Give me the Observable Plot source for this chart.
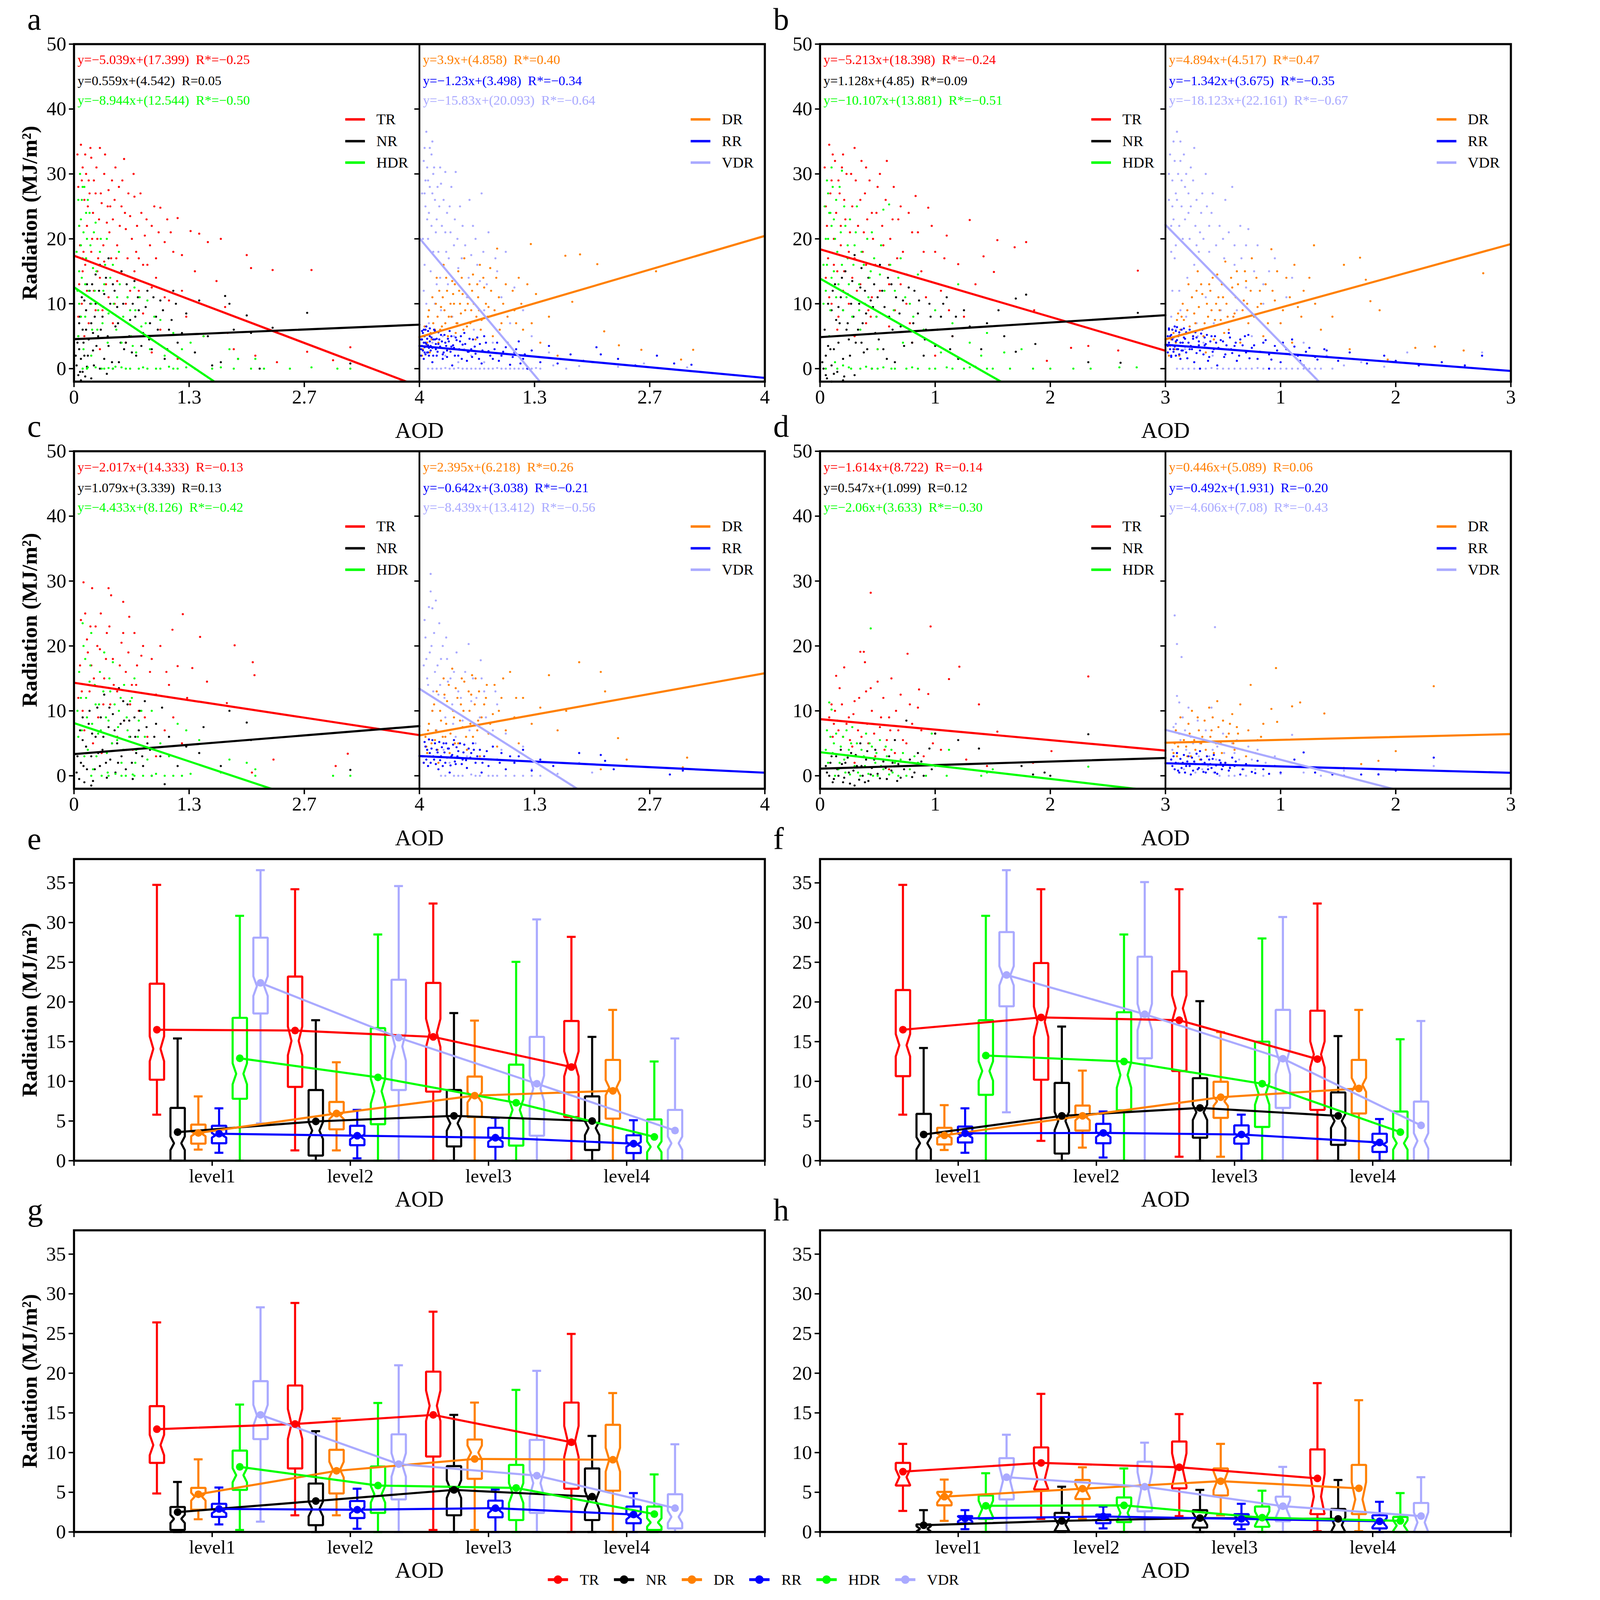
<!DOCTYPE html>
<html><head><meta charset="utf-8">
<script src="https://cdn.jsdelivr.net/npm/d3@7"></script>
<script src="https://cdn.jsdelivr.net/npm/@observablehq/plot@0.6"></script>
<style>
html,body{margin:0;padding:0;background:#fff;overflow:hidden;}
#root{position:absolute;left:0;top:0;width:4341px;height:4551px;background:#fff;font-family:"Liberation Serif",serif;overflow:hidden;transform-origin:0 0;}
</style></head><body><div id="root"></div>
<script>
// ---------- categories & styles ----------
const series = ["TR","NR","DR","RR","HDR","VDR"];
const colors = {TR:"#ff0000", NR:"#000000", DR:"#ff8000", RR:"#0000ff", HDR:"#00ff00", VDR:"#aaaaff"};
const levels = ["level1","level2","level3","level4"];
const yTicksScatter = [0,10,20,30,40,50];
const yTicksBox = [0,5,10,15,20,25,30,35];
const tickValsAC = [0,1.333,2.667,4], tickLabelsAC = ["0","1.3","2.7","4"];
const tickValsBD = [0,1,2,3], tickLabelsBD = ["0","1","2","3"];
const yTitleText = "Radiation (MJ/m\u00b2)";

// ---------- regression equations (order: TR, NR, HDR | DR, RR, VDR) ----------
const eqSeries = ["TR","NR","HDR","DR","RR","VDR"];
const slopeA = [-5.039, 0.559, -8.944, 3.9, -1.23, -15.83];
const interceptA = [17.399, 4.542, 12.544, 4.858, 3.498, 20.093];
const rA = [-0.25, 0.05, -0.50, 0.40, -0.34, -0.64];
const sigA = [1,0,1,1,1,1];
const slopeB = [-5.213, 1.128, -10.107, 4.894, -1.342, -18.123];
const interceptB = [18.398, 4.85, 13.881, 4.517, 3.675, 22.161];
const rB = [-0.24, 0.09, -0.51, 0.47, -0.35, -0.67];
const sigB = [1,1,1,1,1,1];
const slopeC = [-2.017, 1.079, -4.433, 2.395, -0.642, -8.439];
const interceptC = [14.333, 3.339, 8.126, 6.218, 3.038, 13.412];
const rC = [-0.13, 0.13, -0.42, 0.26, -0.21, -0.56];
const sigC = [0,0,1,1,1,1];
const slopeD = [-1.614, 0.547, -2.06, 0.446, -0.492, -4.606];
const interceptD = [8.722, 1.099, 3.633, 5.089, 1.931, 7.08];
const rD = [-0.14, 0.12, -0.30, 0.06, -0.20, -0.43];
const sigD = [0,0,1,0,0,1];

// ---------- scatter samples (x AOD, y radiation), read approximately ----------
const aTR = [0.05,28,0.08,34.5,0.1,31,0.12,26,0.13,33,0.15,22,0.17,29,0.2,32.5,0.22,24,0.25,27,0.27,20,0.3,34,0.32,25.5,0.35,30,0.38,22.5,0.4,27.5,0.45,23,0.48,31,0.5,19,0.55,25,0.58,32.3,0.6,21.5,0.65,23.5,0.7,26.5,0.72,18,0.78,24,0.82,20.5,0.9,22,0.95,17,1.0,24.8,1.05,19.5,1.12,21,1.2,23.2,1.25,17.5,1.35,21.2,1.45,20.8,1.55,19.5,1.7,20,2.0,17.5,2.05,15.5,2.3,15.2,2.75,15.2,0.1,15,0.15,12,0.2,18,0.25,9,0.3,14,0.35,16.5,0.4,11,0.45,7,0.5,13.5,0.6,10,0.7,15,0.8,8.5,0.9,12.5,1.0,6,1.1,10.5,1.25,12,1.3,8,1.4,15,1.5,5,1.65,13.5,1.75,9.5,1.78,5.5,1.85,3,2.1,2,2.35,1,2.7,2.6,3.0,1.3,3.2,3.3,0.05,8,0.12,5,0.3,3,0.6,4,0.9,2.5,1.2,1.5,0.07,19,0.18,27,0.28,17,0.42,25,0.52,28,0.62,17,0.75,12,0.85,16,
  0.04,33,0.06,22,0.09,29,0.11,18,0.14,30,0.16,25,0.19,34,0.21,20,0.23,29,0.26,31,0.29,23,0.31,27,0.34,19,0.36,33,0.39,25,0.41,21,0.44,29,0.47,26,0.49,17,0.53,22,0.56,29,0.59,24,0.63,27,0.67,20,0.69,30,0.73,22,0.77,27,0.8,16,0.84,23,0.88,19,0.93,25,0.98,21,1.08,23,1.15,18,0.06,13,0.09,10,0.13,16,0.17,7,0.23,12,0.27,15,0.33,9,0.37,13,0.43,17,0.47,10,0.55,15,0.65,12,0.75,17,0.95,14,1.05,11];
const aNR = [0.03,0.5,0.05,-1,0.06,3,0.08,1.5,0.1,-0.5,0.1,6,0.12,2,0.14,9,0.15,0.3,0.17,4.5,0.18,12,0.2,-1.5,0.2,7,0.22,2.8,0.25,14.5,0.25,10,0.28,5,0.3,0,0.3,16,0.33,8,0.35,11.5,0.38,-0.8,0.4,17,0.4,3.5,0.45,13,0.48,6.5,0.5,9.5,0.52,1,0.55,15,0.6,4,0.62,11,0.65,7.5,0.7,13.5,0.72,2,0.75,9,0.8,5.5,0.85,12,0.9,3,0.95,8,1.0,10.5,1.05,1.5,1.1,6,1.15,12,1.2,4,1.3,8.5,1.4,2.5,1.45,10.5,1.55,5,1.6,0.5,1.7,1,1.75,11.2,1.8,10,1.85,6,1.9,1.5,2.0,8.2,2.05,5.5,2.15,0,2.3,6.3,2.7,8.6,3.2,0.8,0.05,5,0.08,-1.8,0.12,10.5,0.07,8,0.15,13,0.22,5.5,0.35,1.5,0.45,0,0.58,3,0.68,10,0.88,7,
  0.02,2,0.04,4,0.06,7,0.07,-0.5,0.09,11,0.11,4,0.13,-1.2,0.14,6,0.16,2,0.19,10,0.21,13,0.23,0.5,0.24,8,0.26,3.5,0.29,12,0.31,6,0.34,9.5,0.37,14,0.39,5,0.42,10,0.44,1,0.47,12,0.51,7,0.54,4,0.57,10,0.61,13,0.64,5,0.67,2.5,0.71,8,0.74,11,0.78,3.5,0.83,9.5,0.87,4.5,0.92,11,0.97,6,1.03,9,1.08,3,1.13,7.5,1.18,10,1.25,5.5];
const aHDR = [0.04,12,0.06,22,0.07,30,0.08,8,0.09,26,0.1,17,0.11,3,0.12,28,0.13,13,0.15,20,0.16,0.2,0.18,24,0.2,10,0.22,15.5,0.25,22.5,0.27,6,0.3,18,0.32,0,0.35,13,0.38,20,0.4,8.5,0.45,16,0.48,0.3,0.5,11,0.55,4,0.58,14.5,0.6,0,0.65,9,0.7,12.5,0.72,2.5,0.78,6.5,0.8,0.2,0.85,10.5,0.9,4.5,0.95,0,1.0,7.5,1.05,2,1.1,0.3,1.15,5.5,1.2,0,1.25,3,1.3,0.2,1.35,4,1.4,0,1.5,5,1.6,0,1.7,0.2,1.8,3,1.85,0,1.9,1.5,2.05,0,2.1,1.5,2.2,0,2.5,0,2.75,0.2,3.05,0,3.2,0,0.05,5,0.1,0,0.2,2,0.4,0.1,0.06,15,0.08,19,0.14,24,0.24,12,0.33,7,0.52,18,0.68,3.5,
  0.03,18,0.05,26,0.06,10,0.08,23,0.09,14,0.1,28,0.11,21,0.13,8,0.14,17,0.16,26,0.17,12,0.19,19,0.21,6,0.23,21,0.26,15,0.28,9,0.31,20,0.34,12,0.36,16,0.39,4,0.42,14,0.46,10,0.49,6,0.53,13,0.57,8,0.62,11,0.66,5,0.71,9,0.76,11,0.83,7,0.88,3,0.93,8,0.15,0,0.25,0.2,0.35,0,0.45,0,0.55,0.2,0.65,0,0.75,0,0.85,0,1.0,0,1.15,0];
const aVDR = [0.05,32,0.07,25,0.08,36.5,0.1,20,0.1,29,0.12,34,0.13,15,0.15,27,0.17,31,0.18,10,0.2,23,0.22,18,0.25,28.5,0.27,5,0.3,21,0.3,30.3,0.33,13,0.35,25,0.38,8,0.4,19,0.42,30.3,0.45,15.5,0.5,22,0.52,3,0.55,11,0.58,26,0.6,17.5,0.63,6,0.65,20,0.7,13.5,0.72,27,0.75,9,0.8,21,0.85,4,0.9,15,0.95,11,1.0,18,1.05,7,1.1,12.5,1.2,9,1.3,5,0.1,0,0.2,0,0.3,0.1,0.4,0,0.5,0,0.6,0,0.7,0,0.8,0,0.9,0.1,1.0,0,1.1,0,1.2,0,1.3,0,1.4,0,1.55,0.5,1.7,0,1.85,0.4,2.0,1,2.3,0.3,2.6,0.8,3.1,0.2,1.5,2.5,0.05,12,0.06,27,0.09,23,0.14,33,0.16,18,0.24,14,0.34,17,
  0.03,27,0.04,20,0.06,34,0.07,29,0.09,31,0.11,24,0.12,28,0.14,22,0.15,35,0.16,30,0.18,26,0.19,21,0.21,28,0.23,25,0.24,31,0.26,22,0.28,26,0.31,18,0.32,24,0.36,21,0.37,28,0.41,23,0.44,20,0.47,25,0.49,17,0.53,19,0.57,14,0.62,22,0.67,16,0.74,18,0.78,13,0.88,17,0.06,16,0.08,10,0.11,7,0.15,4,0.2,13,0.25,9,0.3,2,0.4,5,0.45,1,0.6,2,0.75,1,0.95,2,0.15,0,0.25,0,0.35,0,0.45,0.1,0.55,0,0.65,0,0.75,0,0.85,0,0.95,0,1.05,0,1.15,0,1.25,0,1.35,0.1];
const aDR = [0.03,2,0.05,5,0.08,3.5,0.1,8,0.12,2.5,0.15,11,0.18,6,0.2,14,0.22,4,0.25,9.5,0.28,16,0.3,7,0.32,12,0.35,3,0.38,13.5,0.4,10,0.42,5.5,0.45,15,0.48,8.5,0.5,11.5,0.52,17,0.55,6.5,0.58,13,0.6,9,0.62,14.5,0.65,4.5,0.68,11,0.7,16,0.72,7.5,0.75,12.5,0.8,9.5,0.82,15.5,0.85,5,0.9,18.5,0.92,11,0.95,7,1.0,13,1.05,3.5,1.1,9,1.15,14,1.2,6,1.29,19.2,1.35,11.5,1.4,4,1.5,8,1.69,17.4,1.77,10.3,1.86,17.6,2.06,16.1,2.14,5.75,2.31,3.6,2.57,2.9,2.74,15,3.03,1.4,3.17,2.9,1.6,2,0.06,6.5,0.14,4.5,0.24,6,0.34,8,0.44,7,0.56,10,0.66,8,
  0.04,3,0.07,6,0.09,4,0.11,9,0.13,5.5,0.16,7,0.19,10,0.21,8,0.23,12,0.26,6.5,0.27,11,0.29,9,0.31,14,0.33,5,0.36,10,0.37,8,0.39,11.5,0.41,13,0.43,7,0.46,12,0.47,10,0.49,14,0.51,6,0.53,9,0.57,11,0.59,7,0.61,12,0.63,10,0.67,13,0.69,9,0.71,6,0.74,14,0.77,10,0.79,8,0.83,12,0.87,9,0.89,14,0.93,6,0.97,10,1.02,8,1.08,12,1.12,7,1.18,10,1.25,13,1.3,7];
const aRR = [0.02,3,0.04,5.5,0.05,1.5,0.07,4,0.08,6.5,0.1,2.5,0.12,5,0.13,3.5,0.15,1,0.17,6,0.18,4.5,0.2,2,0.22,3.8,0.25,5.2,0.27,1.5,0.3,4,0.32,2.8,0.35,5.8,0.38,0.5,0.4,3.2,0.42,4.8,0.45,2,0.5,3.7,0.52,5.5,0.55,1.2,0.6,3,0.62,4.5,0.65,2.3,0.7,3.8,0.72,0.8,0.75,5,0.8,2.7,0.85,1.5,0.9,4,0.95,2,1.0,3.3,1.05,0.6,1.1,2.5,1.15,4.2,1.2,1.5,1.3,2.8,1.4,1,1.5,3.5,1.6,0.8,1.75,2.2,1.9,1.2,2.05,3.3,2.1,2.2,2.3,1.5,2.5,0.5,2.75,2,2.95,0.8,3.15,0.6,1.25,0,0.03,4.5,0.06,2.5,0.09,5.2,0.11,3.2,0.14,4.8,0.19,3,0.23,4.5,0.28,2.5,0.33,4.6,0.37,3.4,0.47,4.2,0.57,2.6,
  0.02,4.5,0.02,2,0.03,3.5,0.03,5.8,0.04,2.8,0.05,4,0.05,6,0.06,3.3,0.06,5,0.07,2.2,0.07,6,0.08,3.8,0.09,2.5,0.09,4.6,0.1,5.8,0.1,3.6,0.11,2,0.12,4.2,0.12,6.2,0.13,2.8,0.14,5.4,0.15,3.2,0.16,4.5,0.16,2,0.18,5.8,0.19,3.8,0.2,4.6,0.21,2.6,0.22,5.6,0.24,3.4,0.26,4.2,0.27,2.2,0.29,5.2,0.31,3.5,0.32,1.8,0.34,4.2,0.36,2.6,0.37,5,0.39,3.6,0.41,2,0.43,4.4,0.46,3,0.48,5,0.49,1.5,0.53,3.8,0.56,2.6,0.58,4.6,0.61,1.8,0.64,3.4,0.67,4.8,0.69,1.5,0.73,2.8,0.77,4,0.82,2,0.87,3,0.92,1.2,0.97,2.6,1.02,4,1.08,1.8,1.12,3,1.17,0.8,1.22,2.2];

const bTR = [0.05,25,0.08,34.5,0.1,29,0.12,20,0.13,32,0.15,15,0.17,27,0.2,33,0.22,23,0.25,18,0.27,30,0.3,34,0.32,12,0.35,26,0.38,21,0.4,31,0.42,9,0.45,24,0.48,16,0.5,28,0.55,19,0.58,32,0.6,13,0.63,23,0.67,17,0.7,25,0.75,10,0.8,21,0.83,26.6,0.88,15,0.94,24.8,1.0,18,1.05,12,1.1,20.5,1.2,16.1,1.25,8,1.3,22.9,1.35,13,1.42,17.3,1.51,14.9,1.54,19.8,1.69,18.7,1.79,19.5,1.86,9,1.97,1.2,2.18,3.2,2.33,3.5,2.59,2.8,2.76,15.1,0.1,10,0.15,6,0.2,12,0.3,5,0.4,7,0.5,3,0.6,6.5,0.8,4,1.0,2,1.15,5,0.07,17,0.18,22,0.28,14,0.45,11,0.65,9,
  0.04,31,0.06,22,0.09,27,0.11,33,0.14,24,0.16,29,0.18,19,0.19,31,0.21,26,0.23,30,0.26,21,0.28,25,0.31,29,0.33,22,0.36,32,0.37,18,0.39,27,0.41,23,0.43,29,0.46,20,0.49,24,0.52,30,0.54,22,0.57,26,0.61,20,0.64,28,0.68,23,0.72,18,0.77,24,0.85,21,0.9,18,0.97,22,1.08,17,0.05,14,0.08,11,0.12,16,0.16,8,0.21,15,0.25,10,0.3,17,0.35,13,0.4,16,0.44,8,0.52,12,0.6,16,0.7,13,0.78,7,0.92,11,1.12,9];
const bNR = [0.03,0,0.05,2,0.06,-1.5,0.08,5,0.1,0.5,0.1,9,0.12,3,0.13,13,0.15,-0.5,0.17,7,0.18,11,0.2,1.5,0.22,15,0.25,4.5,0.27,10,0.3,-1,0.3,17.5,0.33,6,0.35,12.5,0.38,2.5,0.4,8.5,0.42,14,0.45,0,0.48,5.5,0.5,11,0.52,16,0.55,3,0.6,8,0.62,13,0.65,1,0.7,6.5,0.72,10.5,0.75,14.5,0.8,4,0.82,12,0.85,8.5,0.9,2,0.92,6,0.95,10,1.0,3.5,1.05,8,1.1,11,1.15,5,1.2,1.5,1.25,9,1.3,6.5,1.4,3,1.45,7,1.55,9,1.6,5,1.7,10.8,1.7,2.6,1.79,11.4,1.87,3.8,2.33,1,2.61,0.9,2.76,8.6,0.1,-2,0.2,-1.8,0.07,3.5,0.16,9.5,0.24,7,0.36,4,0.46,9.5,0.58,1.5,
  0.02,1,0.04,6,0.05,-1,0.07,10,0.09,3,0.11,12,0.12,-0.8,0.14,7.5,0.16,4,0.19,14,0.2,9,0.21,-1.2,0.23,6,0.24,11.5,0.26,2,0.28,13.5,0.29,8,0.31,4,0.34,10,0.36,15.5,0.37,7,0.39,12,0.41,3,0.44,10.5,0.47,13,0.49,8,0.51,4.5,0.54,12,0.56,9.5,0.59,14,0.63,6,0.66,11,0.69,8.5,0.73,3.5,0.77,12.5,0.81,7,0.86,10.5,0.91,4.5,0.96,8,1.02,6,1.07,10,1.13,3,1.18,8];
const bHDR = [0.03,10,0.05,20,0.07,27,0.08,5,0.1,31,0.1,14,0.12,23,0.13,1,0.15,18,0.17,28,0.19,30.5,0.2,9,0.22,22,0.25,13,0.27,0,0.3,19,0.32,25,0.35,6,0.38,16,0.4,0.3,0.42,11,0.45,21,0.5,3,0.52,14.5,0.55,24.5,0.58,8,0.6,25.3,0.62,0,0.65,12,0.7,17,0.72,4,0.78,10,0.8,0.2,0.85,14.5,0.9,6,0.95,0,1.0,9,1.05,2.5,1.1,0.2,1.15,7,1.2,13,1.25,0,1.3,4,1.35,0.3,1.4,2,1.45,5.5,1.5,0,1.6,2.5,1.65,0,1.75,3,1.85,0,2.0,0,2.2,0,2.35,0,2.6,0.2,2.75,0.2,0.05,0,0.2,0.5,0.5,0,0.06,16,0.09,24,0.14,11,0.24,17,0.34,9,0.44,15,
  0.03,16,0.04,25,0.05,12,0.06,29,0.07,20,0.08,24,0.09,9,0.1,22,0.11,28,0.12,15,0.13,20,0.14,26,0.16,13,0.18,21,0.19,16,0.21,25,0.23,11,0.24,19,0.26,23,0.28,8,0.29,16,0.31,21,0.34,13,0.36,18,0.39,10,0.41,20,0.43,14,0.47,17,0.49,8,0.53,19,0.56,12,0.61,16,0.64,9,0.68,14,0.74,11,0.81,8,0.15,0,0.25,0.2,0.35,0,0.45,0,0.55,0.2,0.65,0,0.75,0,0.85,0,1.0,0,1.15,0,1.3,0.2,1.45,0];
const bVDR = [0.03,30,0.05,22,0.07,35,0.08,17,0.1,36.5,0.1,26,0.12,12,0.13,32,0.15,20,0.17,28,0.18,8,0.2,24,0.22,31,0.25,16,0.25,34,0.28,5,0.3,21,0.32,27,0.35,11,0.35,30,0.38,18,0.4,24,0.42,7,0.45,14,0.5,20,0.52,26,0.55,3,0.58,28,0.6,16,0.62,9,0.65,22,0.7,12.5,0.72,21.5,0.75,5,0.8,19,0.85,10,0.9,15,0.95,17,1.0,7,1.05,11,1.1,14,1.2,4,1.3,10,1.4,2,0.1,0,0.2,0,0.3,0,0.4,0.1,0.5,0,0.6,0,0.7,0,0.8,0.1,0.9,0,1.0,0,1.1,0,1.2,0,1.3,0,1.45,0,1.55,0.5,1.7,1,1.9,0.3,2.1,2.5,2.4,0.5,2.75,2.5,0.05,8,0.06,25,0.09,19,0.14,29,0.19,14,0.27,19,
  0.03,26,0.04,33,0.05,18,0.06,29,0.07,23,0.08,32,0.09,27,0.11,30,0.12,22,0.13,35,0.14,25,0.16,33,0.17,23,0.18,30,0.2,27,0.21,20,0.22,25,0.24,29,0.26,22,0.27,26,0.29,18,0.31,24,0.33,20,0.36,25,0.38,22,0.41,27,0.44,19,0.47,22,0.51,17,0.55,21,0.6,19,0.66,17,0.7,19,0.77,15,0.85,13,0.06,12,0.09,6,0.13,9,0.17,3,0.23,11,0.27,7,0.33,4,0.41,2,0.48,9,0.15,0,0.25,0,0.35,0,0.45,0,0.55,0,0.65,0,0.75,0,0.85,0,0.95,0,1.05,0,1.15,0,1.25,0,1.35,0];
const bDR = [0.03,2,0.05,4.5,0.08,3,0.1,7.5,0.12,2,0.15,10,0.18,5.5,0.2,13,0.22,3.5,0.25,8.5,0.28,15,0.3,6,0.32,11.5,0.35,2.5,0.38,13,0.4,9,0.42,4.5,0.45,14.5,0.48,7.5,0.5,11,0.52,16.5,0.55,6,0.58,12.5,0.6,8.5,0.62,15,0.65,4,0.68,10.5,0.7,13.5,0.72,7,0.75,17,0.8,9.5,0.82,12,0.85,5,0.92,18.4,0.95,10.5,1.0,7,1.05,14,1.1,4,1.15,9.5,1.2,12,1.29,19,1.35,6,1.45,8,1.55,16,1.69,17.1,1.74,13.7,1.78,10.4,1.86,9,1.93,1.4,2.17,3.2,2.34,3.4,2.59,2.8,2.76,14.7,1.6,3,0.06,6,0.14,8,0.24,5,0.34,7,0.44,10,0.54,8,
  0.04,3.5,0.07,5.5,0.09,4,0.11,8.5,0.13,6,0.16,7.5,0.19,9,0.21,6.5,0.23,11,0.26,7,0.27,12,0.29,9.5,0.31,13,0.33,5,0.36,10,0.37,8,0.39,12,0.41,14,0.43,7.5,0.46,11,0.47,9,0.49,13,0.51,5.5,0.53,10,0.57,14,0.59,8,0.61,11,0.63,13,0.67,9,0.69,15,0.71,10,0.74,12,0.77,8,0.79,14,0.83,10,0.87,13,0.89,7,0.93,12,0.97,15,1.02,9,1.08,11,1.12,16,1.18,8,1.25,14,1.3,10];
const bRR = [0.02,3.5,0.03,6,0.05,2,0.06,4.5,0.08,6.5,0.1,3,0.11,5,0.13,1.5,0.15,4,0.16,6.2,0.18,2.5,0.2,5.5,0.22,3.5,0.25,1,0.27,4.8,0.3,2.8,0.32,6,0.35,3.8,0.38,1.8,0.4,5,0.42,3,0.45,0.5,0.5,4.2,0.52,2.2,0.55,5.5,0.6,3.5,0.62,1.2,0.65,4.5,0.7,2.5,0.72,5.2,0.75,3.2,0.8,1.5,0.85,4,0.9,2.2,0.95,3.5,1.0,1,1.05,3,1.1,4.5,1.15,2,1.2,0.5,1.25,3.2,1.3,1.8,1.4,2.8,1.5,1.2,1.6,2.5,1.75,0.8,1.9,2,2.0,1.2,2.2,0.5,2.4,1,2.6,0.5,2.75,2,0.3,0,0.9,0,0.04,5,0.07,3,0.09,4.2,0.12,5.6,0.14,2.8,0.17,4.6,0.21,3,0.24,5,0.29,3.6,0.34,4.8,0.44,4,0.57,3,
  0.02,5,0.02,2.5,0.03,4,0.03,6.2,0.04,3,0.05,5.2,0.05,1.8,0.06,3.6,0.06,6,0.07,2.6,0.07,4.8,0.08,3.4,0.09,5.8,0.09,2,0.1,4.4,0.1,6.4,0.11,3,0.12,5.2,0.12,2.2,0.13,4,0.14,6,0.15,2.8,0.16,4.8,0.17,3.4,0.18,5.6,0.19,1.6,0.2,4,0.21,6,0.23,3,0.24,4.6,0.26,5.6,0.27,2.4,0.29,4.2,0.31,5.4,0.33,2.2,0.34,3.6,0.36,5.2,0.37,1.2,0.39,4.2,0.41,2.6,0.43,5,0.46,3.2,0.48,4.4,0.51,1.8,0.53,3.6,0.56,4.8,0.58,2.4,0.61,4,0.64,2,0.67,3.6,0.69,5,0.73,1.6,0.77,3.6,0.82,2.6,0.87,4.4,0.92,1.4,0.97,2.8,1.02,4,1.08,2.2,1.12,3.4,1.17,1.2,1.22,2.6,1.32,1.4,1.38,3];

const cTR = [0.11,29.8,0.21,28.9,0.4,28.9,0.43,27.8,0.57,26.8,0.64,24.5,1.26,24.9,1.14,22.5,1.86,20.1,2.07,17.5,2.09,15.5,1.77,11.2,2.31,2.5,2.06,0.5,3.17,3.4,3.03,1.5,1.46,21.4,1.37,16.6,1.54,14.5,1.2,16.9,1.31,12,0.08,24,0.15,21,0.2,17,0.25,23,0.3,19.5,0.35,15,0.38,22,0.45,18,0.5,13,0.55,20.5,0.6,16,0.65,11,0.7,22,0.72,14,0.78,18.5,0.82,9,0.88,16,0.95,12.5,1.0,20,1.05,7,1.1,14,0.1,10,0.12,7,0.18,13,0.22,5,0.28,9,0.32,3.5,0.42,11,0.5,6,0.58,8.5,0.68,4,0.75,10,0.85,6,0.95,3,1.15,9,1.25,5,0.05,12,
  0.07,17,0.09,13,0.13,25,0.16,19,0.19,23,0.23,15,0.27,20,0.31,25,0.34,11,0.37,18,0.41,23,0.46,14,0.53,17,0.57,22,0.63,19,0.67,14,0.73,17,0.8,20,0.9,18,1.07,16];
const cNR = [0.03,0.5,0.06,-0.5,0.08,2,0.1,5.5,0.12,-1,0.15,1,0.17,8,0.2,3,0.22,-0.8,0.25,6,0.27,10.5,0.3,1.5,0.33,4,0.35,12.5,0.38,-0.3,0.4,7.5,0.42,2.5,0.45,9.5,0.48,0.5,0.5,5,0.52,13.5,0.55,3,0.58,8.5,0.6,1,0.62,11,0.65,6,0.68,-0.5,0.7,9,0.72,3.5,0.75,7,0.8,1.5,0.82,11.5,0.85,5,0.9,0,0.95,8,1.0,3,1.02,10.5,1.05,-1.3,1.1,6,1.2,1.5,1.3,4.5,1.45,3.5,1.5,7.5,1.7,1.5,1.8,10,2.0,8.2,2.05,5.5,3.2,0.9,0.2,-1.5,0.1,9,
  0.04,3,0.07,7,0.11,1.5,0.14,4.5,0.18,10,0.21,6.5,0.24,1,0.28,3.5,0.31,9,0.34,6,0.37,2,0.41,10.5,0.44,5,0.47,7,0.51,2,0.54,8,0.57,11.5,0.61,4,0.64,8.5,0.67,2,0.71,6,0.76,10,0.79,3,0.84,7.5,0.88,4,0.93,6];
const cHDR = [0.05,6,0.08,12,0.1,23.5,0.12,3,0.13,18,0.15,9,0.18,14.5,0.2,22,0.22,1,0.25,11,0.28,6.5,0.3,16,0.32,0,0.35,19,0.38,3.5,0.4,8.5,0.42,13,0.45,17.5,0.48,0.3,0.5,5.5,0.52,10,0.55,2,0.58,14,0.6,0,0.62,7,0.65,11.5,0.68,0.2,0.7,15,0.72,4,0.75,8.5,0.8,0,0.82,6,0.85,2.5,0.9,10,0.95,0.3,1.0,5,1.05,0,1.1,3,1.2,8,1.25,0,1.3,7,1.35,0.3,1.45,5.5,1.7,0.5,1.8,2.5,2.0,2,2.1,1,2.1,0,3.0,0,3.2,0,
  0.04,10,0.06,16,0.09,7,0.11,20,0.14,12,0.16,4,0.19,17,0.21,8,0.24,14,0.26,3,0.29,11,0.31,7,0.34,13,0.37,9,0.39,0.5,0.41,15,0.44,5,0.47,11,0.51,7.5,0.54,12,0.57,4,0.61,9,0.64,6,0.67,12,0.71,2,0.74,6,0.78,10,0.2,0,0.4,0,0.55,0,0.7,0,0.9,0,1.15,0];
const cVDR = [0.13,31.1,0.13,28.4,0.15,25.8,0.19,27,0.23,23.5,0.07,21.3,0.31,21.3,0.57,20.3,0.71,17.8,0.05,17,0.1,14,0.12,19,0.15,10,0.18,16,0.2,7,0.22,12.5,0.25,18,0.28,4,0.3,9,0.33,14.5,0.35,2,0.38,11,0.4,16,0.42,6,0.45,13,0.5,8.5,0.55,3,0.6,11.5,0.62,15,0.65,5,0.7,9,0.75,13,0.8,2.5,0.85,7,0.9,11,0.95,4,1.0,6.5,1.1,2,1.2,4.5,1.3,1,0.25,0,0.4,0,0.5,0,0.6,0.2,0.7,0,0.8,0,0.9,0,1.0,0,1.1,0,1.2,0,1.3,0,1.4,0,1.6,0.3,2.0,0.5,1.85,2,
  0.06,24,0.08,18,0.09,15,0.11,26,0.14,20,0.16,13,0.17,22,0.21,17,0.24,14,0.27,20,0.29,12,0.32,18,0.36,15,0.39,8,0.43,19,0.48,12,0.53,16,0.58,7,0.66,12,0.72,15,0.77,9,0.88,13,0.3,0,0.45,0,0.65,0,0.85,0];
const cDR = [0.05,2,0.08,4.5,0.1,7,0.12,3,0.15,10,0.18,5.5,0.2,13,0.22,2,0.25,8.5,0.28,15,0.3,6,0.32,11.5,0.35,3.5,0.38,16.5,0.4,9,0.42,13.5,0.45,5,0.48,11,0.5,7.5,0.52,14.5,0.55,4,0.58,10,0.6,12.5,0.62,6,0.65,15,0.68,8.5,0.7,3,0.75,11,0.78,14,0.8,6.5,0.85,9.5,0.9,4.5,0.95,12,1.0,7,1.05,16,1.1,9,1.15,5,1.2,12,1.3,8,1.4,10.5,1.5,15.5,1.6,7,1.7,10,1.85,17.5,2.1,16,2.15,13,2.3,5.8,2.4,2.5,2.1,1,3.05,1.3,3.1,2.8,
  0.07,6,0.09,3.5,0.11,8,0.14,5,0.17,11,0.19,7,0.21,4,0.24,10,0.27,6,0.29,12.5,0.31,8,0.34,14,0.36,6.5,0.39,10,0.41,5,0.44,12,0.47,8.5,0.49,15,0.51,10,0.54,6,0.57,13,0.59,8,0.61,15.5,0.64,11,0.67,7,0.69,13,0.72,9,0.77,12,0.82,8,0.87,14,0.92,10,0.97,15,1.12,12];
const cRR = [0.05,2,0.07,4.5,0.1,1.5,0.12,3.5,0.15,5.5,0.17,2.5,0.2,4,0.22,1,0.25,3,0.28,5,0.3,2,0.33,4.2,0.35,0.5,0.38,3.2,0.4,5.5,0.42,1.8,0.45,3.8,0.5,2.5,0.52,4.8,0.55,1.2,0.6,3.5,0.62,5,0.65,2,0.7,4,0.72,0.5,0.75,3,0.8,1.5,0.85,4.5,0.9,2.5,0.95,3.5,1.0,1,1.05,3,1.1,2,1.2,4,1.3,0.8,1.4,2.5,1.55,1.5,1.85,3.5,2.1,3.2,2.15,2.3,2.25,1,2.9,0.2,3.05,0.8,
  0.04,3,0.06,5.2,0.08,2.5,0.09,4,0.11,5.6,0.13,2,0.14,4.2,0.16,3,0.18,5,0.19,1.8,0.21,3.6,0.23,5.2,0.24,2.4,0.26,4.4,0.27,1.5,0.29,3.6,0.31,5,0.32,2.8,0.34,4.2,0.36,1.6,0.37,3,0.39,4.8,0.41,2.2,0.43,4.4,0.44,3,0.47,5,0.49,1.8,0.51,3.6,0.54,2.4,0.57,4.2,0.59,2.8,0.63,4,0.67,3,0.73,2,0.78,3.8,0.83,2.5,0.93,2,1.15,3];

const dTR = [0.44,28.2,0.96,23,0.35,19.1,0.38,19.1,0.39,17.5,0.21,16.7,0.14,15.4,0.76,18.8,1.21,16.8,1.12,14.9,0.94,12.6,0.86,13.3,2.33,15.3,1.38,11,1.54,6.8,2.01,3.8,1.27,2.5,1.45,1.5,0.1,11,0.12,8,0.17,13.5,0.2,6,0.25,9,0.28,4.5,0.3,11.5,0.33,7,0.4,13,0.42,5,0.45,10,0.48,3,0.5,14.5,0.52,7.5,0.55,12,0.58,5.5,0.6,9,0.62,15,0.65,3.5,0.68,7,0.7,12.5,0.75,5,0.8,8,0.85,10.5,0.9,3,1.0,6.5,1.05,4,1.85,2,0.3,2,0.6,1,
  0.08,9,0.11,6,0.13,10,0.16,7,0.19,11,0.23,8,0.26,5.5,0.29,9.5,0.34,12,0.36,6,0.41,8,0.44,13.5,0.47,6.5,0.53,9,0.56,4,0.61,7,0.66,10,0.72,5.5,0.78,11,0.88,7,0.98,5];
const dNR = [0.05,1.5,0.08,0,0.1,3,0.12,-0.5,0.15,1,0.18,4,0.2,-1,0.22,2,0.25,0.5,0.27,3.5,0.3,-1.5,0.32,1.5,0.35,5,0.37,0,0.4,2.5,0.42,-0.8,0.45,1.2,0.48,4,0.5,0.3,0.55,2.2,0.58,-0.5,0.6,3,0.62,0.8,0.65,5.5,0.68,1.8,0.7,-0.3,0.75,8.5,0.78,2.5,0.82,0.5,0.85,3.5,0.9,0,0.95,4.2,0.97,1,1.0,6.5,1.2,5.5,1.38,4.2,1.75,1.5,1.85,0.2,1.95,0.5,2.0,0,2.33,6.4,
  0.06,0.5,0.09,2,0.11,-1,0.14,3,0.16,0,0.19,1.8,0.21,-0.3,0.24,2.8,0.26,-1.2,0.29,0.8,0.31,3.2,0.34,-0.6,0.36,1.5,0.39,-1,0.41,3.8,0.44,0.2,0.47,2.5,0.52,-0.4,0.57,1.2,0.63,2,0.67,-0.8,0.73,1,0.8,-0.2,0.88,2.2];
const dHDR = [0.44,22.7,0.08,11.3,0.1,10.2,0.06,7,0.12,5,0.15,8.5,0.17,2,0.2,6,0.22,0.5,0.25,4,0.28,7.5,0.3,1.5,0.32,5,0.35,0,0.38,3,0.4,6.5,0.42,0.3,0.45,4.5,0.48,2,0.5,0,0.52,5.5,0.55,1,0.58,3,0.6,0.2,0.62,4,0.65,2,0.68,0,0.72,3.5,0.78,1,0.85,2,0.92,0,0.97,6.5,1.0,1.5,1.1,0,1.12,4,1.4,0,1.45,0.5,1.5,1,2.33,1.4,
  0.05,4,0.07,2,0.09,6,0.11,3.5,0.13,0,0.14,6.5,0.16,1,0.18,4.5,0.21,2.5,0.23,7,0.26,0.2,0.27,5,0.31,3,0.33,0.5,0.36,4,0.39,1.5,0.43,5,0.46,0,0.49,3.5,0.53,1.5,0.57,4.5,0.63,0.5,0.7,2.5,0.75,0,0.82,3];
const dVDR = [0.08,24.7,0.43,22.9,0.1,20.3,0.14,18.3,0.1,12.3,0.12,11.3,0.07,7.5,0.15,9,0.18,4,0.2,10.5,0.22,6,0.25,2,0.28,8.5,0.3,5,0.32,1,0.35,7,0.38,3,0.4,10.5,0.42,0.5,0.45,4.5,0.5,6.5,0.52,2,0.55,0,0.6,3.5,0.62,5.5,0.68,1,0.7,0,0.75,2.5,0.8,4,0.85,0,0.9,1.5,0.95,3,1.0,0.3,1.1,6.3,1.2,0.5,1.35,0,1.55,0.8,1.85,0.3,2.33,1.5,0.6,0,
  0.06,4,0.09,8,0.11,2,0.13,5.5,0.16,1,0.17,7,0.21,3.5,0.24,5,0.26,0.5,0.29,3,0.33,5.5,0.37,1.5,0.41,4,0.44,2.5,0.47,0,0.51,3.5,0.56,1.5,0.58,5,0.64,2.5,0.72,4.5,0.78,1,0.87,2];
const dDR = [0.05,2.5,0.08,5,0.1,3,0.12,6.5,0.15,2,0.18,4.5,0.2,8,0.22,3,0.25,5.5,0.28,9,0.3,2.5,0.32,6,0.35,4,0.38,10.5,0.4,7,0.42,3.5,0.45,11.5,0.48,5,0.5,8.5,0.52,2,0.55,6.5,0.58,9.5,0.6,4,0.62,7.5,0.65,11,0.7,3,0.74,14,0.8,5.5,0.85,8,0.92,10.3,0.96,16.6,0.97,8.3,1.1,10.7,1.17,11.3,1.38,9.6,1.55,1.2,1.7,1.8,1.85,2.3,2.0,3.8,2.33,13.8,
  0.07,3.5,0.09,7,0.11,4.5,0.13,9,0.16,5.5,0.19,3,0.21,6.5,0.23,10,0.26,4,0.29,7,0.31,5,0.34,8.5,0.36,3,0.39,6,0.41,9,0.44,5,0.46,7.5,0.49,3.5,0.53,6,0.56,8,0.59,5,0.63,6.5,0.67,4,0.72,7,0.78,3.5,0.83,6];
const dRR = [0.05,2.5,0.08,1,0.1,3.5,0.12,0.5,0.15,2,0.18,1.5,0.2,3,0.22,0.2,0.25,2.2,0.28,1,0.3,3.8,0.32,1.8,0.35,0.5,0.38,2.5,0.4,1.2,0.42,3.2,0.45,0.3,0.48,2,0.5,1.5,0.55,0.8,0.58,2.8,0.6,1.5,0.65,0.2,0.7,1.8,0.75,0.6,0.8,2.3,0.85,1,0.9,0.3,0.95,1.5,1.0,0.5,1.12,2.5,1.2,3.6,1.3,0.5,1.45,0.2,1.55,0,1.7,0.2,1.85,0.2,2.0,0.8,2.33,2.8,
  0.06,1.5,0.07,3,0.09,2,0.11,0.8,0.13,2.6,0.14,1.2,0.16,3.2,0.17,0.5,0.19,2.2,0.21,1.5,0.23,2.8,0.24,0.8,0.26,1.8,0.27,3.4,0.29,1.2,0.31,2.5,0.33,0.6,0.34,2,0.36,3,0.37,1,0.39,1.8,0.41,2.6,0.43,0.5,0.44,1.6,0.47,2.4,0.49,1,0.52,2,0.56,1.2,0.61,2.2,0.67,1,0.73,1.6,0.78,0.4];

// ---------- box statistics per level: [whisker low, Q1, median, Q3, whisker high, mean] ----------
const eTR = [[5.8,10.2,14.1,22.3,34.75,16.5],[1.3,9.3,15.1,23.2,34.2,16.4],[0,8.7,16.1,22.4,32.4,15.6],[0,5.5,12.2,17.6,28.2,11.8]];
const eNR = [[0,0,2.2,6.65,15.4,3.6],[0,0.65,3.8,8.9,17.7,4.95],[0,1.8,4.7,8.9,18.6,5.65],[0,1.35,4.1,8.1,15.6,5.0]];
const eDR = [[1.4,2.15,3.4,4.55,8.1,3.5],[1.3,3.95,5.7,7.4,12.4,5.95],[0,5.5,8.0,10.6,17.65,8.2],[0,5.3,9.2,12.7,19.0,8.8]];
const eRR = [[1.0,2.2,3.2,4.4,6.6,3.4],[0.3,1.95,3.0,4.4,6.4,3.15],[0,1.75,2.7,4.15,5.4,2.9],[0,0.97,2.05,3.2,5.1,2.15]];
const eHDR = [[0,7.8,10.95,18.0,30.85,12.9],[0,4.6,8.75,16.7,28.5,10.5],[0,1.9,6.4,12.1,25.05,7.3],[0,0,1.75,5.2,12.5,3.0]];
const eVDR = [[4.7,18.55,22.0,28.1,36.6,22.4],[0,8.9,14.4,22.8,34.6,15.5],[0,3.15,9.1,15.6,30.4,9.7],[0,0,2.2,6.4,15.4,3.8]];

const fTR = [[5.8,10.65,14.55,21.5,34.75,16.5],[2.5,10.2,17.5,24.9,34.2,18.05],[0.5,11.3,19.2,23.85,34.2,17.7],[0,6.4,13.4,18.9,32.4,12.8]];
const fNR = [[0,0,2.2,5.9,14.2,3.3],[0,0.9,5.0,9.8,16.9,5.65],[0,2.9,6.1,10.4,20.1,6.65],[0,2.0,5.0,8.6,15.7,5.65]];
const fDR = [[1.35,2.05,3.15,4.15,7.0,3.2],[1.65,3.8,5.5,6.95,11.35,5.65],[0.5,5.4,7.5,9.95,16.2,8.0],[0,5.95,9.55,12.7,19.0,9.1]];
const fRR = [[1.0,2.3,3.15,4.3,6.6,3.45],[0.4,2.2,3.3,4.65,6.2,3.5],[0,2.15,3.15,4.45,5.8,3.3],[0,1.1,2.05,3.4,5.25,2.3]];
const fHDR = [[0,8.3,11.3,17.7,30.85,13.25],[0,6.35,10.8,18.7,28.5,12.5],[0,4.25,8.45,15.0,28.0,9.7],[0,0,2.2,6.2,15.3,3.6]];
const fVDR = [[6.1,19.45,23.3,28.8,36.6,23.4],[0,12.9,18.1,25.7,35.1,18.45],[0,6.65,12.5,19.0,30.7,12.85],[0,0,2.5,7.45,17.6,4.45]];

const gTR = [[4.85,8.7,10.95,15.85,26.4,12.95],[2.1,8.0,13.6,18.45,28.85,13.6],[0.25,9.5,15.9,20.2,27.75,14.75],[0,5.45,11.4,16.3,24.95,11.3]];
const gNR = [[0,0.25,1.65,3.15,6.3,2.5],[0,0.85,2.9,6.1,12.7,3.9],[0,2.1,5.4,8.3,14.75,5.3],[0,1.5,4.0,8.0,12.1,4.45]];
const gDR = [[1.6,2.8,4.45,5.55,9.15,4.75],[2.1,4.85,7.85,10.35,14.3,7.7],[0.25,6.7,10.0,11.65,16.3,9.2],[0,5.2,9.1,13.5,17.5,9.1]];
const gRR = [[0.95,1.9,2.65,3.55,5.6,2.9],[0.4,1.75,2.7,3.9,5.45,2.8],[0,1.85,2.75,3.95,5.35,3.0],[0,1.1,1.95,3.2,4.9,2.2]];
const gHDR = [[0.25,5.3,7.15,10.25,16.05,8.2],[0,2.4,4.75,8.25,16.25,5.85],[0,1.5,4.9,8.45,17.9,5.55],[0,0.25,1.2,3.2,7.25,2.25]];
const gVDR = [[1.3,11.7,14.7,19.0,28.3,14.75],[0,4.1,8.45,12.3,21.0,8.55],[0,2.4,6.15,11.6,20.3,7.1],[0,0.45,1.9,4.75,11.05,3.0]];

const hTR = [[2.65,5.85,6.9,8.7,11.1,7.6],[1.65,5.35,6.6,10.65,17.4,8.7],[2.0,5.5,7.85,11.4,14.85,8.15],[0.1,2.25,4.45,10.4,18.75,6.75]];
const hNR = [[0,0,0.4,0.95,2.75,0.85],[0,0.1,0.95,2.4,5.7,1.4],[0,0.55,1.65,2.75,5.3,1.75],[0,0,0.85,2.9,6.55,1.65]];
const hDR = [[1.4,3.35,4.3,5.05,6.6,4.45],[1.65,4.15,5.2,6.55,8.15,5.45],[2.1,4.6,6.45,8.0,11.1,6.4],[0.1,2.25,4.1,8.45,16.6,5.5]];
const hRR = [[0.35,1.1,1.65,2.0,2.75,1.7],[0.45,1.1,1.8,2.2,3.2,1.95],[0.35,0.95,1.65,2.25,3.55,1.65],[0,0.45,1.2,2.1,3.8,1.35]];
const hHDR = [[0,1.65,2.9,4.6,7.4,3.3],[0,1.25,2.4,4.35,8.0,3.35],[0,0.65,1.7,3.2,5.2,1.8],[0,0,0.8,1.9,4.9,1.4]];
const hVDR = [[0,4.1,6.45,9.3,12.25,6.9],[0,2.6,5.35,8.85,11.25,5.7],[0,1.35,2.9,4.45,8.2,3.25],[0,0,1.2,3.65,6.9,2.0]];

// ---------- layout ----------
const boxOffsets = {TR:-0.4, NR:-0.25, DR:-0.1, RR:0.05, HDR:0.2, VDR:0.35};
const FONT = "Liberation Serif";
const TICK_FS = 56;
const root = document.getElementById("root");
const sgn = v => (v < 0 ? "\u2212" : "") + Math.abs(v);
const sgnR = v => (v < 0 ? "\u2212" : "") + Math.abs(v).toFixed(2);
function pairs(arr, off, s) { const out = []; for (let i = 0; i < arr.length; i += 2) out.push({x: arr[i] + off, y: arr[i+1], s}); return out; }
function place(svg, left, top) { svg.style.position = "absolute"; svg.style.left = left + "px"; svg.style.top = top + "px"; svg.style.maxWidth = "none"; root.appendChild(svg); }
const yTitleMark = () => Plot.text([yTitleText], {frameAnchor: "left", dx: -126, rotate: -90, textAnchor: "middle", lineAnchor: "middle", fontSize: 62, fontWeight: "bold"});

function scatterPanel(o) {
  const {left, top, width, mL, mR, sub, tickVals, tickLabels, pts, slope, intercept, r, sig, label, yTitle} = o;
  const height = 1261, mT = 125, mB = 176;
  const innerW = width - mL - mR, innerH = height - mT - mB;
  const xmax = 2 * sub, pxu = innerW / xmax, pyu = innerH / 52;
  const yAt = px => 50 - px / pyu;
  const dots = [];
  ["TR","NR","HDR"].forEach(s => dots.push(...pairs(pts[s], 0, s)));
  ["VDR","DR","RR"].forEach(s => dots.push(...pairs(pts[s], sub, s)));
  const reg = [], eqRows = [], legRows = [];
  eqSeries.forEach((s, i) => {
    const off = i < 3 ? 0 : sub, row = i % 3;
    reg.push({s, x: off, y: intercept[i]}, {s, x: off + sub, y: slope[i] * sub + intercept[i]});
    eqRows.push({x: off + 10 / pxu, y: yAt([45,104,160][row]), color: colors[s],
      text: `y=${sgn(slope[i])}x+(${intercept[i]})\u2002${sig[i] ? "R*" : "R"}=${sgnR(r[i])}`});
    legRows.push({s, color: colors[s], x1: off + 772 / pxu, x2: off + 828 / pxu, xt: off + 860 / pxu, y: yAt([214,276,337][row])});
  });
  const ticks = [...tickVals, ...tickVals.slice(1).map(v => v + sub)];
  const labs = [...tickLabels, ...tickLabels.slice(1)];
  const tickMap = new Map(ticks.map((v, i) => [v, labs[i]]));
  const marks = [
    Plot.dot(dots, {x: "x", y: "y", r: 3, fill: d => colors[d.s]}),
    ...eqSeries.map(s => Plot.line(reg.filter(d => d.s === s), {x: "x", y: "y", stroke: colors[s], strokeWidth: 6, clip: true})),
    Plot.ruleX([sub], {stroke: "black", strokeWidth: 5}),
    Plot.ruleY(yTicksScatter.slice(0, -1), {y: d => d, x1: sub - 14 / pxu, x2: sub, stroke: "black", strokeWidth: 4}),
    Plot.frame({stroke: "black", strokeWidth: 6}),
    Plot.axisY({ticks: yTicksScatter, tickSize: 14, tickPadding: 8, label: null, fontSize: TICK_FS, strokeWidth: 4}),
    Plot.axisX({ticks, tickFormat: d => tickMap.get(d), tickSize: 16, tickPadding: 6, label: null, fontSize: TICK_FS, strokeWidth: 4}),
    Plot.text(eqRows, {x: "x", y: "y", text: "text", fill: "color", textAnchor: "start", fontSize: 38}),
    Plot.ruleY(legRows, {x1: "x1", x2: "x2", y: "y", stroke: "color", strokeWidth: 7}),
    Plot.text(legRows, {x: "xt", y: "y", text: "s", textAnchor: "start", fontSize: 43}),
    Plot.text(["AOD"], {frameAnchor: "bottom", dy: 140, lineAnchor: "middle", fontSize: 64}),
    Plot.text([label], {frameAnchor: "top-left", dx: -133, dy: -70, textAnchor: "start", lineAnchor: "middle", fontSize: 90})
  ];
  if (yTitle) marks.push(yTitleMark());
  const svg = Plot.plot({
    width, height, marginLeft: mL, marginRight: mR, marginTop: mT, marginBottom: mB,
    x: {domain: [0, xmax]}, y: {domain: [-2, 50]}, color: {type: "identity"},
    style: {fontFamily: FONT, fontSize: "52px", background: "transparent", color: "black", overflow: "visible"},
    marks
  });
  place(svg, left, top);
}

function boxPanel(o) {
  const {left, top, width, mL, mR, stats, notch, label, yTitle} = o;
  const height = 1124, mT = 125, mB = 141;
  const hw = 0.052, iw = 0.026, cw = 0.032;
  const polys = [], whisk = [], caps = [], means = [];
  series.forEach(s => {
    stats[s].forEach((st, li) => {
      const [lo, q1, med, q3, hi, mean] = st;
      const x = li + 1 + boxOffsets[s];
      const d = notch * (q3 - q1);
      const nl = Math.max(q1, med - d), nu = Math.min(q3, med + d);
      const id = s + li;
      [[x-hw,q1],[x-hw,nl],[x-iw,med],[x-hw,nu],[x-hw,q3],[x+hw,q3],[x+hw,nu],[x+iw,med],[x+hw,nl],[x+hw,q1]]
        .forEach(([px, py]) => polys.push({id, s, x: px, y: py}));
      whisk.push({s, x, y1: q3, y2: hi}, {s, x, y1: lo, y2: q1});
      caps.push({s, x1: x - cw, x2: x + cw, y: hi}, {s, x1: x - cw, x2: x + cw, y: lo});
      means.push({s, x, y: mean});
    });
  });
  const marks = [
    Plot.ruleX(whisk, {x: "x", y1: "y1", y2: "y2", stroke: d => colors[d.s], strokeWidth: 6}),
    Plot.ruleY(caps, {x1: "x1", x2: "x2", y: "y", stroke: d => colors[d.s], strokeWidth: 6}),
    ...series.map(s => Plot.line(polys.filter(d => d.s === s), {x: "x", y: "y", z: "id", curve: "linear-closed", stroke: colors[s], strokeWidth: 6, strokeLinejoin: "miter"})),
    ...series.map(s => Plot.line(means.filter(d => d.s === s), {x: "x", y: "y", stroke: colors[s], strokeWidth: 6})),
    Plot.dot(means, {x: "x", y: "y", r: 11, fill: d => colors[d.s]}),
    Plot.frame({stroke: "black", strokeWidth: 6}),
    Plot.axisY({ticks: yTicksBox, tickSize: 15, tickPadding: 8, label: null, fontSize: TICK_FS, strokeWidth: 4}),
    Plot.axisX({ticks: [0,1,2,3,4,5], tickFormat: d => (d >= 1 && d <= 4 ? levels[d-1] : ""), tickSize: 15, tickPadding: 8, label: null, fontSize: 54, strokeWidth: 4}),
    Plot.text(["AOD"], {frameAnchor: "bottom", dy: 110, lineAnchor: "middle", fontSize: 64}),
    Plot.text([label], {frameAnchor: "top-left", dx: -133, dy: -57, textAnchor: "start", lineAnchor: "middle", fontSize: 90})
  ];
  if (yTitle) marks.push(yTitleMark());
  const svg = Plot.plot({
    width, height, marginLeft: mL, marginRight: mR, marginTop: mT, marginBottom: mB,
    x: {domain: [0, 5]}, y: {domain: [0, 38]}, color: {type: "identity"},
    style: {fontFamily: FONT, fontSize: "52px", background: "transparent", color: "black", overflow: "visible"},
    marks
  });
  place(svg, left, top);
}

const L = {left: 0, width: 2250, mL: 210, mR: 75};
const R = {left: 2170, width: 2171, mL: 162, mR: 44};

scatterPanel({...L, top: 0, sub: 4, tickVals: tickValsAC, tickLabels: tickLabelsAC,
  pts: {TR: aTR, NR: aNR, HDR: aHDR, DR: aDR, RR: aRR, VDR: aVDR}, slope: slopeA, intercept: interceptA, r: rA, sig: sigA, label: "a", yTitle: true});
scatterPanel({...R, top: 0, sub: 3, tickVals: tickValsBD, tickLabels: tickLabelsBD,
  pts: {TR: bTR, NR: bNR, HDR: bHDR, DR: bDR, RR: bRR, VDR: bVDR}, slope: slopeB, intercept: interceptB, r: rB, sig: sigB, label: "b", yTitle: false});
scatterPanel({...L, top: 1158, sub: 4, tickVals: tickValsAC, tickLabels: tickLabelsAC,
  pts: {TR: cTR, NR: cNR, HDR: cHDR, DR: cDR, RR: cRR, VDR: cVDR}, slope: slopeC, intercept: interceptC, r: rC, sig: sigC, label: "c", yTitle: true});
scatterPanel({...R, top: 1158, sub: 3, tickVals: tickValsBD, tickLabels: tickLabelsBD,
  pts: {TR: dTR, NR: dNR, HDR: dHDR, DR: dDR, RR: dRR, VDR: dVDR}, slope: slopeD, intercept: interceptD, r: rD, sig: sigD, label: "d", yTitle: false});

boxPanel({...L, top: 2318, stats: {TR: eTR, NR: eNR, DR: eDR, RR: eRR, HDR: eHDR, VDR: eVDR}, notch: 0.13, label: "e", yTitle: true});
boxPanel({...R, top: 2318, stats: {TR: fTR, NR: fNR, DR: fDR, RR: fRR, HDR: fHDR, VDR: fVDR}, notch: 0.13, label: "f", yTitle: false});
boxPanel({...L, top: 3374, stats: {TR: gTR, NR: gNR, DR: gDR, RR: gRR, HDR: gHDR, VDR: gVDR}, notch: 0.18, label: "g", yTitle: true});
boxPanel({...R, top: 3374, stats: {TR: hTR, NR: hNR, DR: hDR, RR: hRR, HDR: hHDR, VDR: hVDR}, notch: 0.35, label: "h", yTitle: false});

// ---------- bottom legend ----------
const leg = document.createElement("div");
leg.style.cssText = `position:absolute;left:1558px;top:4463px;height:60px;display:flex;align-items:center;font-family:'${FONT}',serif;font-size:43px;color:#000;`;
series.forEach(s => {
  const ns = "http://www.w3.org/2000/svg";
  const sv = document.createElementNS(ns, "svg");
  sv.setAttribute("width", 58); sv.setAttribute("height", 60);
  const ln = document.createElementNS(ns, "line");
  ln.setAttribute("x1", 0); ln.setAttribute("x2", 58); ln.setAttribute("y1", 30); ln.setAttribute("y2", 30);
  ln.setAttribute("stroke", colors[s]); ln.setAttribute("stroke-width", 8);
  const c = document.createElementNS(ns, "circle");
  c.setAttribute("cx", 29); c.setAttribute("cy", 30); c.setAttribute("r", 12); c.setAttribute("fill", colors[s]);
  sv.appendChild(ln); sv.appendChild(c);
  const sp = document.createElement("span");
  sp.textContent = s; sp.style.margin = "0 42px 0 33px";
  leg.appendChild(sv); leg.appendChild(sp);
});
root.appendChild(leg);

// fit the 4341x4551 canvas into the actual viewport if it is smaller
const vw = document.documentElement.clientWidth || window.innerWidth;
const vh = document.documentElement.clientHeight || window.innerHeight;
const sc = Math.min(1, vw / 4341, vh / 4551);
if (sc < 0.999) root.style.transform = `scale(${sc})`;
</script></body></html>
